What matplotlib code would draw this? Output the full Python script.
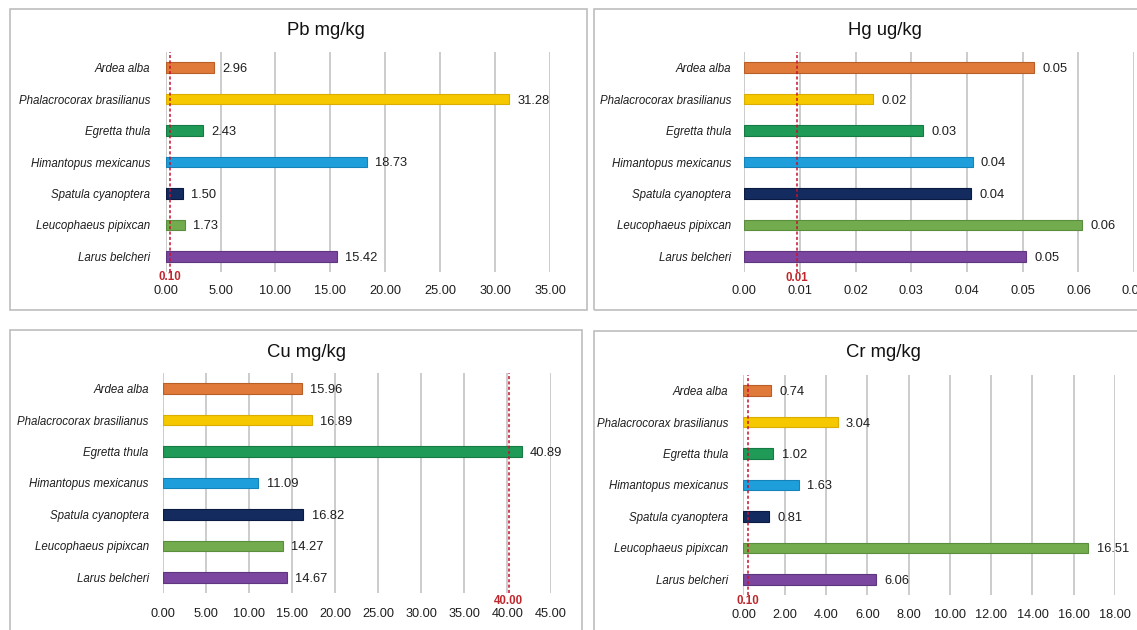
import matplotlib
matplotlib.use("Agg")
import matplotlib.pyplot as plt
from matplotlib.patches import Rectangle
from matplotlib.transforms import blended_transform_factory

plt.rcParams['font.family'] = ['Liberation Sans', 'DejaVu Sans']

species = ["Ardea alba", "Phalacrocorax brasilianus", "Egretta thula",
           "Himantopus mexicanus", "Spatula cyanoptera", "Leucophaeus pipixcan",
           "Larus belcheri"]
colors = ["#E07A3A", "#F6C800", "#1F9A57", "#1E9FDB", "#142B5F", "#72AC4E", "#7A469F"]
edges = ["#B85F28", "#D9AE00", "#167A44", "#1582B8", "#0A1A40", "#5A8E3C", "#5F3580"]

# Pb mg/kg
pb_bars = [4.38, 31.3, 3.4, 18.3, 1.54, 1.78, 15.6]
pb_labels = ["2.96", "31.28", "2.43", "18.73", "1.50", "1.73", "15.42"]
pb_ticks = [0, 5, 10, 15, 20, 25, 30, 35]
pb_ref, pb_ref_label = 0.41, "0.10"

# Hg ug/kg
hg_bars = [0.052, 0.0231, 0.0321, 0.0410, 0.0408, 0.0606, 0.0506]
hg_labels = ["0.05", "0.02", "0.03", "0.04", "0.04", "0.06", "0.05"]
hg_ticks = [0, 0.01, 0.02, 0.03, 0.04, 0.05, 0.06, 0.07]
hg_ref, hg_ref_label = 0.0094, "0.01"

# Cu mg/kg
cu_bars = [16.19, 17.33, 41.64, 11.09, 16.32, 13.92, 14.45]
cu_labels = ["15.96", "16.89", "40.89", "11.09", "16.82", "14.27", "14.67"]
cu_ticks = [0, 5, 10, 15, 20, 25, 30, 35, 40, 45]
cu_ref, cu_ref_label = 40.15, "40.00"

# Cr mg/kg
cr_bars = [1.32, 4.56, 1.45, 2.67, 1.23, 16.70, 6.42]
cr_labels = ["0.74", "3.04", "1.02", "1.63", "0.81", "16.51", "6.06"]
cr_ticks = [0, 2, 4, 6, 8, 10, 12, 14, 16, 18]
cr_ref, cr_ref_label = 0.2, "0.10"

W, H = 1137, 630
fig = plt.figure(figsize=(W / 100, H / 100), dpi=100)
fig.patch.set_facecolor("white")


def box(x0, y0, x1, y1):
    fig.add_artist(Rectangle((x0 / W, 1 - y1 / H), (x1 - x0) / W, (y1 - y0) / H,
                             transform=fig.transFigure, fill=False,
                             edgecolor="#BDBDBD", lw=1.2))


box(9.5, 9.5, 587, 310)
box(594, 9.5, 1145, 310)
box(9.5, 330, 582, 640)
box(594, 331, 1145, 640)


def panel(px0, px1, py0, py1, xmax, bars, labels, ticks, fmt, ref, ref_label,
          title, tx, ty, ylabpad, xpad, reflab_dy):
    ax = fig.add_axes([px0 / W, 1 - py1 / H, (px1 - px0) / W, (py1 - py0) / H])
    ypos = list(range(len(species)))
    ax.barh(ypos, bars, height=0.34, color=colors, edgecolor=edges, linewidth=0.8, zorder=3)
    ax.set_ylim(len(species) - 0.5, -0.5)
    ax.set_xlim(0, xmax)
    ax.set_xticks(ticks)
    ax.set_xticklabels([fmt.format(t) for t in ticks], fontsize=9.2, color="#1E1E1E")
    ax.set_yticks(ypos)
    ax.set_yticklabels(species, fontsize=8.3, style="italic", color="#1E1E1E")
    ax.tick_params(axis="both", length=0)
    ax.tick_params(axis="y", pad=ylabpad)
    ax.tick_params(axis="x", pad=xpad)
    for s in ax.spines.values():
        s.set_visible(False)
    ax.grid(axis="x", color="#C4C4C4", lw=1.2, zorder=0)
    ax.set_axisbelow(True)
    ax.set_facecolor("none")
    for i, (v, lab) in enumerate(zip(bars, labels)):
        ax.annotate(lab, (v, i), xytext=(6, -1), textcoords="offset points",
                    ha="left", va="center", fontsize=9.3, color="#1E1E1E")
    ax.axvline(ref, color="#C8102E", lw=1.1, ls=(0, (2, 1.5)), zorder=4)
    tr = blended_transform_factory(ax.transData, ax.transAxes)
    ax.annotate(ref_label, (ref, 0), xycoords=tr, xytext=(0, -reflab_dy),
                textcoords="offset points", ha="center", va="center",
                fontsize=8.3, fontweight="bold", color="#C0272D")
    fig.text(tx / W, 1 - ty / H, title, ha="center", va="center", fontsize=13.3,
             color="#111111")
    return ax


panel(165.6, 550.1, 52, 272, 35, pb_bars, pb_labels, pb_ticks, "{:.2f}", pb_ref,
      pb_ref_label, "Pb mg/kg", 325.5, 30.7, 11, 9, 3.5)
panel(744.2, 1134.1, 52, 272, 0.07, hg_bars, hg_labels, hg_ticks, "{:.2f}", hg_ref,
      hg_ref_label, "Hg ug/kg", 884.8, 30.7, 9.5, 9.5, 4.5)
panel(162.6, 550.5, 373, 593, 45, cu_bars, cu_labels, cu_ticks, "{:.2f}", cu_ref,
      cu_ref_label, "Cu mg/kg", 306.7, 352.7, 10, 10.5, 6)
panel(743.5, 1115, 375, 595, 18, cr_bars, cr_labels, cr_ticks, "{:.2f}", cr_ref,
      cr_ref_label, "Cr mg/kg", 883, 352.7, 11, 10, 4.5)

fig.savefig("out.png", dpi=100, facecolor="white")
